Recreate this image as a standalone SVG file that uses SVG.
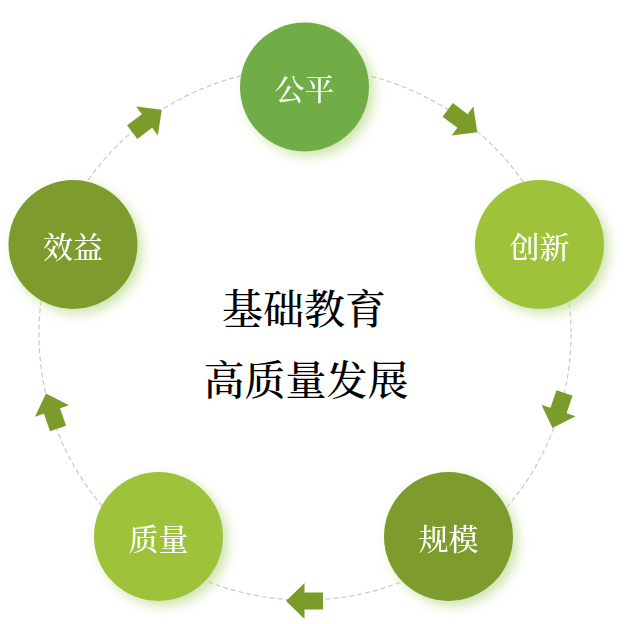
<svg xmlns="http://www.w3.org/2000/svg" width="641" height="624" viewBox="0 0 641 624">
  <style>
    .ring { fill: none; stroke: #c9c9c9; stroke-width: 1.2; stroke-dasharray: 5 3; }
    .arrow { fill: #7b9b2a; }
    .node { filter: url(#glow); }
    .label { fill: #ffffff; font-family: 'Noto Serif CJK SC', 'Noto Sans CJK SC', serif; font-size: 30px; font-weight: 500; text-anchor: middle; dominant-baseline: central; }
    .title { fill: #000000; font-family: 'Noto Serif CJK SC', 'Noto Sans CJK SC', serif; font-size: 41px; font-weight: 500; text-anchor: middle; dominant-baseline: central; }
    .c-top { fill: #70ad47; }
    .c-light { fill: #9fc23a; }
    .c-dark { fill: #7e9c2d; }
  </style>
  <defs>
    <filter id="glow" x="-30%" y="-30%" width="170%" height="170%">
      <feGaussianBlur in="SourceAlpha" stdDeviation="6"/>
      <feOffset dx="5" dy="5" result="b"/>
      <feFlood flood-color="#b9d98a" flood-opacity="0.7"/>
      <feComposite in2="b" operator="in"/>
      <feMerge><feMergeNode/><feMergeNode in="SourceGraphic"/></feMerge>
    </filter>
    <path id="blockArrow" d="M-18.5,-8.5 L0,-8.5 L0,-18 L18.5,0 L0,18 L0,8.5 L-18.5,8.5 Z"/>
  </defs>
  <rect width="641" height="624" fill="#ffffff"/>
  <g id="connectors">
    <circle class="ring" cx="305" cy="334" r="266"/>
    <use href="#blockArrow" class="arrow" transform="translate(462.5,121) rotate(37)"/>
    <use href="#blockArrow" class="arrow" transform="translate(558.5,410.5) rotate(109)"/>
    <use href="#blockArrow" class="arrow" transform="translate(304.5,601) rotate(180)"/>
    <use href="#blockArrow" class="arrow" transform="translate(52,411) rotate(251)"/>
    <use href="#blockArrow" class="arrow" transform="translate(147,121) rotate(323)"/>
  </g>
  <g id="node-gongping" class="node">
    <circle class="c-top" cx="304.5" cy="87" r="64.5"/>
    <text class="label" x="304.5" y="87">公平</text>
  </g>
  <g id="node-chuangxin" class="node">
    <circle class="c-light" cx="539.5" cy="244.5" r="64.5"/>
    <text class="label" x="539.5" y="244.5">创新</text>
  </g>
  <g id="node-guimo" class="node">
    <circle class="c-dark" cx="448.5" cy="536.5" r="64.5"/>
    <text class="label" x="448.5" y="536.5">规模</text>
  </g>
  <g id="node-zhiliang" class="node">
    <circle class="c-light" cx="158.5" cy="536.5" r="64.5"/>
    <text class="label" x="158.5" y="536.5">质量</text>
  </g>
  <g id="node-xiaoyi" class="node">
    <circle class="c-dark" cx="73" cy="244.5" r="64.5"/>
    <text class="label" x="73" y="244.5">效益</text>
  </g>
  <g id="center-title">
    <text class="title" x="304" y="306">基础教育</text>
    <text class="title" x="306" y="377">高质量发展</text>
  </g>
</svg>
